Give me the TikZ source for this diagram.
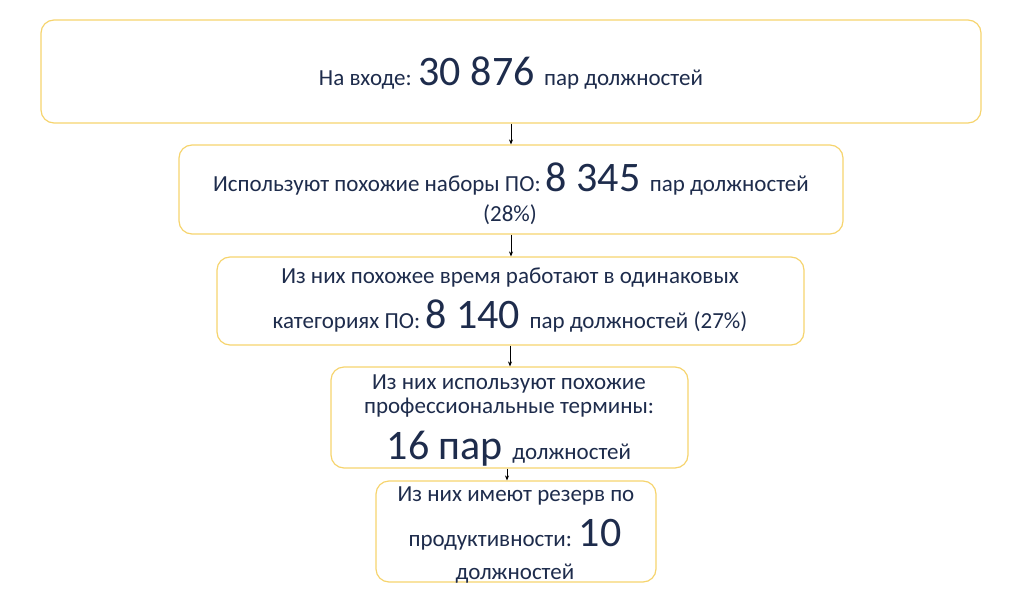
\documentclass[tikz,border=0pt]{standalone}
\usepackage{fontspec}
\usetikzlibrary{arrows.meta}
\setmainfont{Carlito}
\definecolor{txt}{RGB}{30,44,76}
\definecolor{gold}{RGB}{246,212,110}
\begin{document}
\begin{tikzpicture}[x=1pt,y=-1pt,
  box/.style={draw=gold,line width=1.2pt,rounded corners=13pt,inner sep=0pt,fill=white},
  ln/.style={anchor=base,inner sep=0pt,text=txt,font=\fontsize{23}{27}\selectfont},
  arr/.style={-{Stealth[length=5pt,width=4pt]},line width=0.6pt,black}]
\useasboundingbox (0,0) rectangle (1024,591);
\newcommand{\bg}[1]{{\fontsize{42}{48}\selectfont #1}}
% boxes
\node[box,minimum width=940pt,minimum height=103pt] (b1) at (511,71.5) {};
\node[box,minimum width=664pt,minimum height=89pt] (b2) at (511,189.5) {};
\node[box,minimum width=587pt,minimum height=88pt] (b3) at (510.5,301) {};
\node[box,minimum width=357pt,minimum height=101pt] (b4) at (509.5,417.5) {};
\node[box,minimum width=280pt,minimum height=101pt] (b5) at (516,531.5) {};
% texts
\node[ln] (t1) at (511,86) {На входе: \bg{30 876 }пар должностей};
\node[ln] (t2a) at (511,191) {Используют похожие наборы ПО: \bg{8 345 }пар должностей};
\node[ln] (t2b) at (510,221) {(28\%)};
\node[ln] (t3a) at (510,283) {Из них похожее время работают в одинаковых};
\node[ln] (t3b) at (510,328) {категориях ПО: \bg{8 140 }пар должностей (27\%)};
\node[ln] (t4a) at (509,389) {Из них используют похожие};
\node[ln] (t4b) at (509,413) {профессиональные термины:};
\node[ln] (t4c) at (509,459) {\bg{16 пар }должностей};
\node[ln] (t5a) at (516,501) {Из них имеют резерв по};
\node[ln] (t5b) at (515,546) {продуктивности: \bg{10}};
\node[ln] (t5c) at (515,579) {должностей};
% arrows
\draw[arr] (511,0 |- b1.south) -- (511,0 |- b2.north);
\draw[arr] (511,0 |- b2.south) -- (511,0 |- b3.north);
\draw[arr] (510,0 |- b3.south) -- (510,0 |- b4.north);
\draw[arr] (507,0 |- b4.south) -- (507,0 |- b5.north);
\end{tikzpicture}
\end{document}
